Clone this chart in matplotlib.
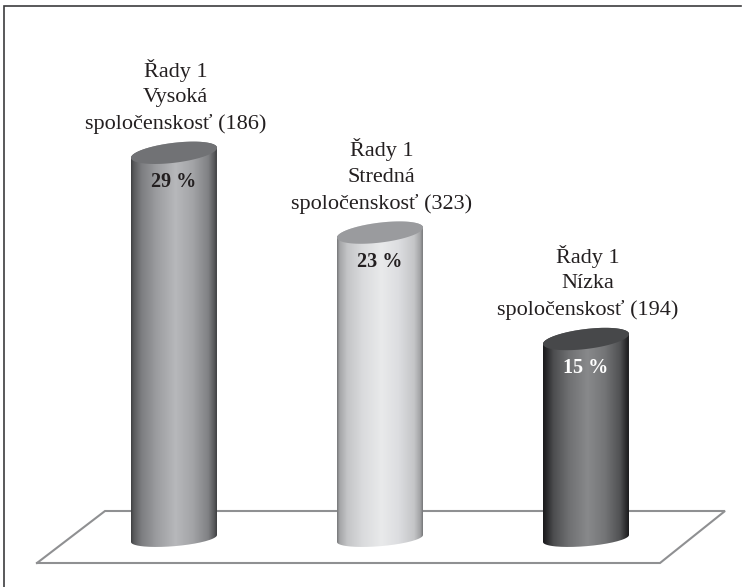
import numpy as np
import matplotlib
matplotlib.use("Agg")
import matplotlib.pyplot as plt
from matplotlib.colors import LinearSegmentedColormap
from matplotlib.patches import PathPatch
from matplotlib.path import Path

categories = ["Vysoká", "Stredná", "Nízka"]
counts = [186, 323, 194]
values = [29, 23, 15]
series_name = "Řady 1"
stops = [0, 0.03, 0.12, 0.3, 0.52, 0.72, 0.9, 0.97, 1]
body_colors = [
    ["#3f4042", "#58595b", "#7c7d80", "#9c9da0", "#b7b8bb", "#a3a4a7", "#808184", "#58595b", "#3f4042"],
    ["#77787a", "#a4a5a7", "#c4c5c7", "#dadbdd", "#e9eaeb", "#dcdde0", "#c4c5c7", "#a2a3a5", "#77787a"],
    ["#1a1a1c", "#242426", "#4c4d4f", "#6f7072", "#88898b", "#747577", "#505153", "#2a2a2c", "#1a1a1c"],
]
top_colors = ["#717275", "#9a9b9e", "#47484a"]
label_colors = ["#231f20", "#231f20", "#ffffff"]

W, H = 742, 587
dpi = 100
plt.rcParams["font.family"] = ["Liberation Serif", "DejaVu Serif"]
fig = plt.figure(figsize=(W / dpi, H / dpi), dpi=dpi, facecolor="white")
ax = fig.add_axes([0, 0, 1, 1])
# category 0 centre at 174 px, spacing 206 px; value 0 at 538.5 px, 13.3 px per unit
sx, x0 = 206.0, 174.0
sy, y0 = 13.3, 538.5
xlim = (-x0 / sx, (W - x0) / sx)
ylim = ((y0 - H) / sy, y0 / sy)
ax.axis("off")
tr = ax.transAxes

# frame: top and left sides only
ax.plot(np.array([3.7, 3.7, 741]) / W, 1 - np.array([587, 5.5, 5.5]) / H, transform=tr,
        color="#3c3c3e", lw=1.2, solid_joinstyle="miter", zorder=1)

# floor
fx = np.array([37, 660, 725, 105, 37])
fy = np.array([563, 563, 511, 511, 563])
ax.plot(fx / W, 1 - fy / H, transform=tr, color="#8f9092", lw=1.5, solid_joinstyle="miter", zorder=1)

half = 43 / sx


def edge(cx, v, t, ry_px, tilt_px):
    c = np.cos(t)
    return cx + half * c, v + (ry_px * np.sin(t) + tilt_px * c) / sy


for i, (cat, n, v) in enumerate(zip(categories, counts, values)):
    cmap = LinearSegmentedColormap.from_list("b", list(zip(stops, body_colors[i])))
    bx, by = edge(i, 0, np.linspace(np.pi, 2 * np.pi, 80), 7.7, 3.5)
    ux, uy = edge(i, v, np.linspace(0, np.pi, 80), 10.0, 5.0)
    verts = np.column_stack([np.r_[bx, ux], np.r_[by, uy]])
    verts = np.vstack([verts, verts[0]])
    clip = PathPatch(Path(verts), fc="none", ec="none", transform=ax.transData)
    ax.add_patch(clip)
    im = ax.imshow(np.linspace(0, 1, 256)[None, :], cmap=cmap, aspect="auto",
                   extent=[i - half, i + half, -3, v + 3], zorder=2)
    im.set_clip_path(clip)
    ex, ey = edge(i, v, np.linspace(0, 2 * np.pi, 200), 10.0, 5.0)
    ax.fill(ex, ey, color=top_colors[i], lw=0, zorder=3)
    ax.text(i, v - 2.2, f"{v} %", ha="center", va="center", fontsize=14.5,
            fontweight="bold", color=label_colors[i], zorder=4)
    ax.text(i + 0.008, v + 1.42, f"{series_name}\n{cat}\nspoločenskosť ({n})", ha="center", va="bottom",
            multialignment="center", fontsize=16, color="#231f20", linespacing=1.46, zorder=4)

ax.set_xlim(*xlim)
ax.set_ylim(*ylim)
fig.savefig("out.png", dpi=dpi, facecolor="white")
